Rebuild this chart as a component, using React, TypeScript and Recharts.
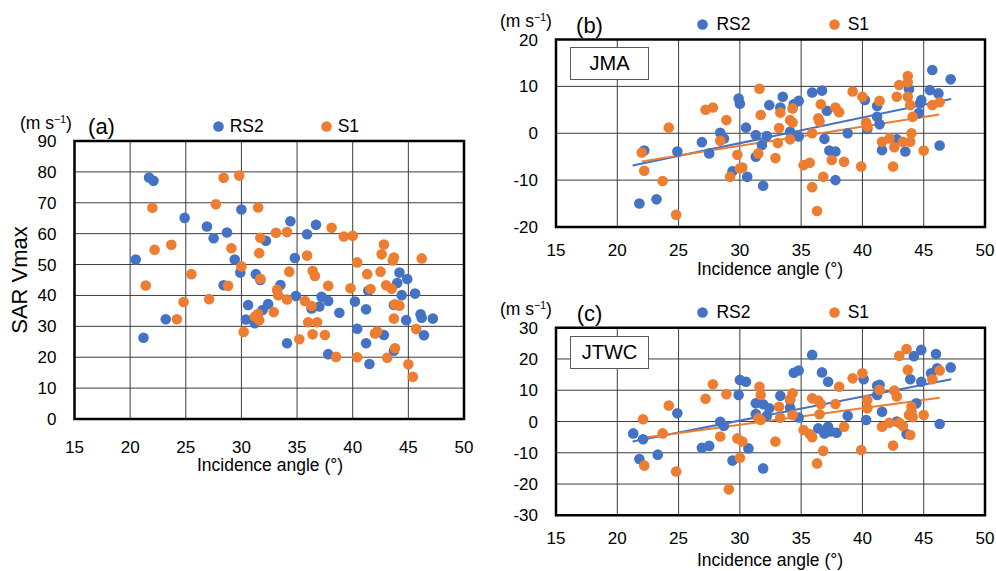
import { ScatterChart, Scatter, XAxis, YAxis, CartesianGrid, ReferenceArea, ReferenceLine, Legend } from "recharts";

// x ticks shared by all three panels
const angleTicks = [15, 20, 25, 30, 35, 40, 45, 50];
const vmaxTicks = [0, 10, 20, 30, 40, 50, 60, 70, 80, 90];
const jmaTicks = [-20, -10, 0, 10, 20];
const jtwcTicks = [-30, -20, -10, 0, 10, 20, 30];

// (a) SAR Vmax, [incidence angle, m/s]
const vmaxRS2 = [
	[20.5, 51.6], [21.2, 26.3], [21.7, 78.2], [22.1, 77.1], [23.2, 32.3], [24.9, 65.1], [26.9, 62.3], [27.5, 58.5],
	[28.4, 43.3], [28.7, 60.4], [29.4, 51.6], [29.9, 47.4], [30.0, 67.8], [30.4, 32.2], [30.6, 36.9], [31.2, 31.0],
	[31.3, 46.9], [31.7, 45.0], [31.9, 35.3], [32.2, 57.7], [32.4, 37.2], [33.5, 43.4], [34.1, 24.5], [34.4, 64.0],
	[34.8, 52.1], [34.9, 39.8], [35.9, 59.8], [36.3, 35.8], [36.7, 62.9], [37.0, 36.4], [37.2, 39.6], [37.8, 38.2],
	[37.8, 21.0], [38.8, 34.4], [40.2, 38.0], [40.4, 29.2], [41.2, 35.5], [41.2, 24.5], [41.4, 41.5], [41.5, 17.8],
	[42.8, 27.2], [43.7, 36.9], [43.7, 22.1], [44.0, 44.0], [44.2, 47.4], [44.4, 40.1], [44.8, 32.0], [44.9, 45.3],
	[45.6, 40.6], [46.1, 33.9], [46.2, 32.8], [46.4, 27.1], [47.2, 32.5],
];
const vmaxS1 = [
	[21.4, 43.2], [22.0, 68.4], [22.2, 54.8], [23.7, 56.4], [24.2, 32.3], [24.8, 37.9], [25.5, 46.9], [27.1, 38.8],
	[27.7, 69.5], [28.4, 78.1], [28.8, 43.1], [29.1, 55.3], [29.8, 78.8], [30.0, 49.4], [30.2, 28.2], [31.2, 33.1],
	[31.5, 34.0], [31.6, 32.0], [31.5, 68.5], [31.6, 53.7], [31.7, 58.7], [31.7, 45.4], [32.9, 34.6], [33.1, 60.3],
	[33.2, 41.8], [33.3, 40.1], [34.1, 60.5], [34.1, 38.7], [34.3, 47.7], [35.2, 25.8], [35.7, 38.2], [35.9, 52.9],
	[36.0, 31.3], [36.3, 36.6], [36.4, 47.9], [36.4, 27.4], [36.6, 46.3], [36.8, 31.3], [37.5, 27.2], [37.8, 43.1],
	[38.1, 61.9], [38.5, 20.1], [39.2, 59.1], [39.8, 42.3], [40.0, 59.3], [40.4, 50.7], [40.4, 20.0], [41.3, 46.9],
	[41.6, 42.1], [42.0, 27.7], [42.2, 28.3], [42.5, 47.7], [42.6, 53.3], [42.8, 56.5], [43.0, 43.3], [43.1, 19.8],
	[43.5, 42.2], [43.6, 51.3], [43.7, 52.3], [43.7, 32.5], [43.8, 22.9], [43.8, 37.1], [44.2, 36.7], [45.0, 17.7],
	[45.4, 13.7], [45.7, 29.1], [46.2, 52.0],
];

// (b) difference vs JMA
const jmaRS2 = [
	[21.8, -15.0], [22.2, -3.7], [23.2, -14.1], [24.9, -3.9], [26.9, -1.9], [27.5, -4.3], [28.4, 0.1], [28.7, -1.1],
	[29.4, -8.1], [29.9, 7.4], [30.0, 6.3], [30.5, 1.2], [30.6, -9.3], [31.3, -5.0], [31.3, -0.4], [31.8, -2.5],
	[31.9, -11.2], [32.2, -0.6], [32.4, 6.0], [33.3, 5.5], [33.5, 7.8], [34.1, 0.3], [34.4, 6.2], [34.8, 6.9],
	[34.8, -0.7], [35.9, 8.7], [36.7, 9.1], [36.9, -1.2], [37.1, 4.8], [37.3, -3.7], [37.8, -3.9], [37.8, -10.0],
	[38.8, 0.0], [40.2, 7.1], [40.4, 0.9], [41.2, 5.8], [41.2, 3.5], [41.4, 1.9], [41.6, -3.6], [42.8, -1.3],
	[43.5, -3.9], [43.8, 9.4], [44.6, 4.3], [44.7, 6.4], [44.8, 7.1], [45.5, 9.2], [45.7, 13.5], [46.2, 8.5],
	[46.3, -2.6], [47.2, 11.5],
];
const jmaS1 = [
	[22.0, -4.1], [22.2, -8.0], [23.7, -10.2], [24.2, 1.2], [24.8, -17.4], [27.2, 5.0], [27.8, 5.5], [28.4, -1.6],
	[28.9, 2.8], [29.2, -9.3], [29.8, -4.6], [30.0, -7.5], [30.2, -7.3], [31.5, -4.3], [31.6, 9.5], [31.7, 3.9],
	[32.9, -5.3], [33.1, -2.1], [33.2, 1.1], [33.3, 4.4], [34.1, 2.8], [34.1, -1.3], [34.3, 5.3], [34.3, 2.3],
	[35.2, -6.8], [35.7, -6.3], [35.9, 0.0], [35.9, -11.5], [36.3, -16.6], [36.4, 3.2], [36.5, 2.5], [36.6, 6.2],
	[36.8, -9.3], [37.5, -5.7], [37.8, 5.5], [38.1, 4.5], [38.5, -6.1], [39.2, 8.9], [39.9, -7.1], [40.0, 7.8],
	[40.3, 2.3], [40.4, 1.4], [41.4, 6.9], [41.6, -1.8], [42.2, -1.1], [42.5, -7.1], [42.6, -3.0], [42.8, 7.8],
	[43.0, 10.3], [43.3, -1.8], [43.7, 12.2], [43.7, 10.9], [43.7, 7.8], [43.9, 6.0], [43.9, -1.8], [44.0, 0.0],
	[44.1, 3.5], [45.0, -3.7], [45.7, 6.0], [46.3, 6.6],
];
const jmaTrendRS2 = [[21.25, -6.9], [47.24, 7.3]];
const jmaTrendS1 = [[22.0, -6.0], [46.26, 4.0]];

// (c) difference vs JTWC
const jtwcRS2 = [
	[21.3, -3.8], [21.8, -12.0], [22.1, -5.7], [23.3, -10.6], [24.9, 2.6], [26.9, -8.4], [27.5, -7.8], [28.4, -0.1],
	[28.7, -1.4], [29.4, -12.5], [29.9, 8.5], [30.0, 13.3], [30.5, 12.7], [30.7, -8.6], [31.3, 5.8], [31.3, 2.4],
	[31.9, 5.5], [31.9, -15.0], [32.2, 1.8], [32.4, 4.2], [33.3, 8.2], [34.1, 4.4], [34.1, 6.9], [34.4, 15.6],
	[34.8, 16.3], [34.8, 1.3], [35.9, 21.3], [36.4, -2.2], [36.7, 15.7], [36.9, -3.8], [37.2, 12.7], [37.2, -1.7],
	[37.4, -3.2], [37.9, -3.6], [38.8, 1.8], [40.1, 13.5], [40.3, 0.5], [41.2, 11.4], [41.2, 8.5], [41.4, 11.7],
	[41.6, 3.1], [42.8, 0.0], [43.6, -4.0], [43.9, 13.5], [44.2, 20.9], [44.4, 5.8], [44.8, 22.9], [44.8, 12.7],
	[45.6, 15.4], [46.0, 21.6], [46.1, 17.0], [46.3, -0.8], [47.2, 17.3],
];
const jtwcS1 = [
	[22.1, 0.7], [22.2, -14.1], [23.7, -3.8], [24.2, 5.1], [24.8, -16.0], [27.2, 7.3], [27.8, 11.9], [28.4, -4.8],
	[28.9, 8.7], [29.1, -21.7], [29.8, -5.4], [30.0, -11.6], [30.2, -6.4], [31.5, 1.0], [31.6, 11.1], [31.7, 8.5],
	[31.7, 0.5], [32.9, -6.4], [33.2, 4.7], [33.3, 1.2], [34.1, 7.1], [34.3, 9.0], [34.3, 2.1], [35.2, -2.7],
	[35.7, -4.0], [35.9, -5.0], [35.9, 7.4], [36.3, -13.4], [36.4, 6.7], [36.5, 2.3], [36.6, 5.6], [36.8, -9.4],
	[37.8, 5.6], [38.1, 11.1], [38.5, -1.7], [39.2, 13.8], [39.9, -9.1], [40.0, 15.4], [40.4, 6.9], [40.4, 4.2],
	[41.4, 10.1], [41.6, -1.7], [42.2, -0.4], [42.5, -7.7], [42.6, 9.9], [42.8, 8.0], [43.0, 21.0], [43.0, -0.4],
	[43.3, -1.4], [43.6, 23.2], [43.7, 16.5], [43.8, 2.1], [43.9, -4.3], [44.0, 3.1], [44.0, 4.7], [44.1, 1.4],
	[45.0, 2.1], [45.7, 13.5], [46.3, 16.3],
];
const jtwcTrendRS2 = [[21.25, -6.4], [47.25, 13.5]];
const jtwcTrendS1 = [[22.0, -5.3], [46.3, 7.6]];

const BLUE = "#4472C4";
const ORANGE = "#ED7D31";
const FONT = '"Liberation Sans", Arial, sans-serif';

const toPoints = (rows: number[][]) => rows.map(([angle, value]) => ({ angle, value }));

const dot = (color: string) => (props: any) => (
	<circle cx={props.cx} cy={props.cy} r={5.3} fill={color} />
);

const legendContent = (step: number, gap: number) => (props: any) => (
	<div style={{ display: "flex", fontFamily: FONT, fontSize: 17.5, color: "#000" }}>
		{(props.payload || []).map((entry: any) => (
			<div key={entry.value} style={{ display: "flex", alignItems: "center", width: step, height: 20 }}>
				<svg width={11} height={11}>
					<circle cx={5.5} cy={5.5} r={5.3} fill={entry.color} />
				</svg>
				<span style={{ marginLeft: gap }}>{entry.value}</span>
			</div>
		))}
	</div>
);

type PanelProps = {
	left: number;
	top: number;
	width: number;
	height: number;
	margin: { top: number; right: number; bottom: number; left: number };
	yDomain: [number, number];
	yTicks: number[];
	yTickMargin: number;
	xTickMargin: number;
	rs2: number[][];
	s1: number[][];
	trendRS2?: number[][];
	trendS1?: number[][];
	legendTop: number;
	legendLeft: number;
	legendStep: number;
	legendGap: number;
};

const Panel = (p: PanelProps) => {
	const tick = { fontSize: 17, fill: "#000", fontFamily: FONT };
	return (
		<div style={{ position: "absolute", left: p.left, top: p.top }}>
			<ScatterChart width={p.width} height={p.height} margin={p.margin}>
				<CartesianGrid stroke="#3c3c3c" strokeWidth={1} />
				<XAxis
					type="number"
					dataKey="angle"
					domain={[15, 50]}
					ticks={angleTicks}
					interval={0}
					height={30}
					axisLine={false}
					tickLine={false}
					tickSize={0}
					tickMargin={p.xTickMargin}
					tick={tick}
				/>
				<YAxis
					type="number"
					dataKey="value"
					domain={p.yDomain}
					ticks={p.yTicks}
					interval={0}
					width={45}
					axisLine={false}
					tickLine={false}
					tickSize={0}
					tickMargin={p.yTickMargin}
					tick={tick}
				/>
				<ReferenceArea
					x1={15}
					x2={50}
					y1={p.yDomain[0]}
					y2={p.yDomain[1]}
					fill="none"
					fillOpacity={0}
					stroke="#000"
					strokeWidth={2.5}
				/>
				<Scatter name="RS2" data={toPoints(p.rs2)} fill={BLUE} shape={dot(BLUE)} isAnimationActive={false} />
				<Scatter name="S1" data={toPoints(p.s1)} fill={ORANGE} shape={dot(ORANGE)} isAnimationActive={false} />
				{p.trendRS2 && (
					<ReferenceLine
						segment={p.trendRS2.map(([x, y]) => ({ x, y }))}
						stroke={BLUE}
						strokeWidth={2}
					/>
				)}
				{p.trendS1 && (
					<ReferenceLine
						segment={p.trendS1.map(([x, y]) => ({ x, y }))}
						stroke={ORANGE}
						strokeWidth={2}
					/>
				)}
				<Legend
					layout="horizontal"
					verticalAlign="middle"
					align="center"
					content={legendContent(p.legendStep, p.legendGap)}
					wrapperStyle={{ top: p.legendTop, left: p.legendLeft, width: "auto", height: "auto" }}
				/>
			</ScatterChart>
		</div>
	);
};

const Unit = ({ left, cy }: { left: number; cy: number }) => (
	<div style={{ position: "absolute", left, top: cy, transform: "translateY(-50%)", fontSize: 17.5, lineHeight: 1, whiteSpace: "nowrap" }}>
		(m s<span style={{ fontSize: "0.6em", position: "relative", top: "-0.6em" }}>−1</span>)
	</div>
);

const Centered = ({ x, y, size, children, rotate }: any) => (
	<div
		style={{
			position: "absolute",
			left: x,
			top: y,
			transform: `translate(-50%, -50%)${rotate ? " rotate(-90deg)" : ""}`,
			fontSize: size,
			lineHeight: 1,
			whiteSpace: "nowrap",
		}}
	>
		{children}
	</div>
);

const Box = ({ left, top, text }: { left: number; top: number; text: string }) => (
	<div
		style={{
			position: "absolute",
			left,
			top,
			width: 79,
			height: 33,
			boxSizing: "border-box",
			border: "1px solid #595959",
			background: "#fff",
			display: "flex",
			alignItems: "center",
			justifyContent: "center",
			fontSize: 20,
		}}
	>
		{text}
	</div>
);

export default function App() {
	return (
		<div style={{ position: "relative", width: 996, height: 571, background: "#fff", fontFamily: FONT, color: "#000", overflow: "hidden" }}>
			<style>{"body{margin:0}"}</style>
			<Panel
				left={0}
				top={0}
				width={480}
				height={500}
				margin={{ top: 141, right: 16, bottom: 51, left: 29.5 }}
				yDomain={[0, 90]}
				yTicks={vmaxTicks}
				yTickMargin={18}
				xTickMargin={22}
				rs2={vmaxRS2}
				s1={vmaxS1}
				legendTop={116}
				legendLeft={212.7}
				legendStep={108}
				legendGap={6}
			/>
			<Panel
				left={490}
				top={0}
				width={506}
				height={285}
				margin={{ top: 39.5, right: 11, bottom: 28, left: 21 }}
				yDomain={[-20, 20]}
				yTicks={jmaTicks}
				yTickMargin={18}
				xTickMargin={17}
				rs2={jmaRS2}
				s1={jmaS1}
				trendRS2={jmaTrendRS2}
				trendS1={jmaTrendS1}
				legendTop={14}
				legendLeft={207.4}
				legendStep={131.3}
				legendGap={8}
			/>
			<Panel
				left={490}
				top={285}
				width={506}
				height={286}
				margin={{ top: 42.7, right: 11, bottom: 25.7, left: 21 }}
				yDomain={[-30, 30]}
				yTicks={jtwcTicks}
				yTickMargin={18}
				xTickMargin={17}
				rs2={jtwcRS2}
				s1={jtwcS1}
				trendRS2={jtwcTrendRS2}
				trendS1={jtwcTrendS1}
				legendTop={17}
				legendLeft={207.4}
				legendStep={131.3}
				legendGap={8}
			/>

			<Unit left={20} cy={124} />
			<Unit left={500} cy={22} />
			<Unit left={500} cy={310} />
			<Centered x={101.5} y={127} size={22}>(a)</Centered>
			<Centered x={589.5} y={26} size={22}>(b)</Centered>
			<Centered x={589.5} y={314} size={22}>(c)</Centered>
			<Centered x={20} y={280} size={22} rotate>SAR Vmax</Centered>
			<Centered x={270} y={466} size={17.5}>Incidence angle (°)</Centered>
			<Centered x={770} y={270} size={17.5}>Incidence angle (°)</Centered>
			<Centered x={770} y={561} size={17.5}>Incidence angle (°)</Centered>
			<Box left={570} top={47} text="JMA" />
			<Box left={570} top={336} text="JTWC" />
		</div>
	);
}
